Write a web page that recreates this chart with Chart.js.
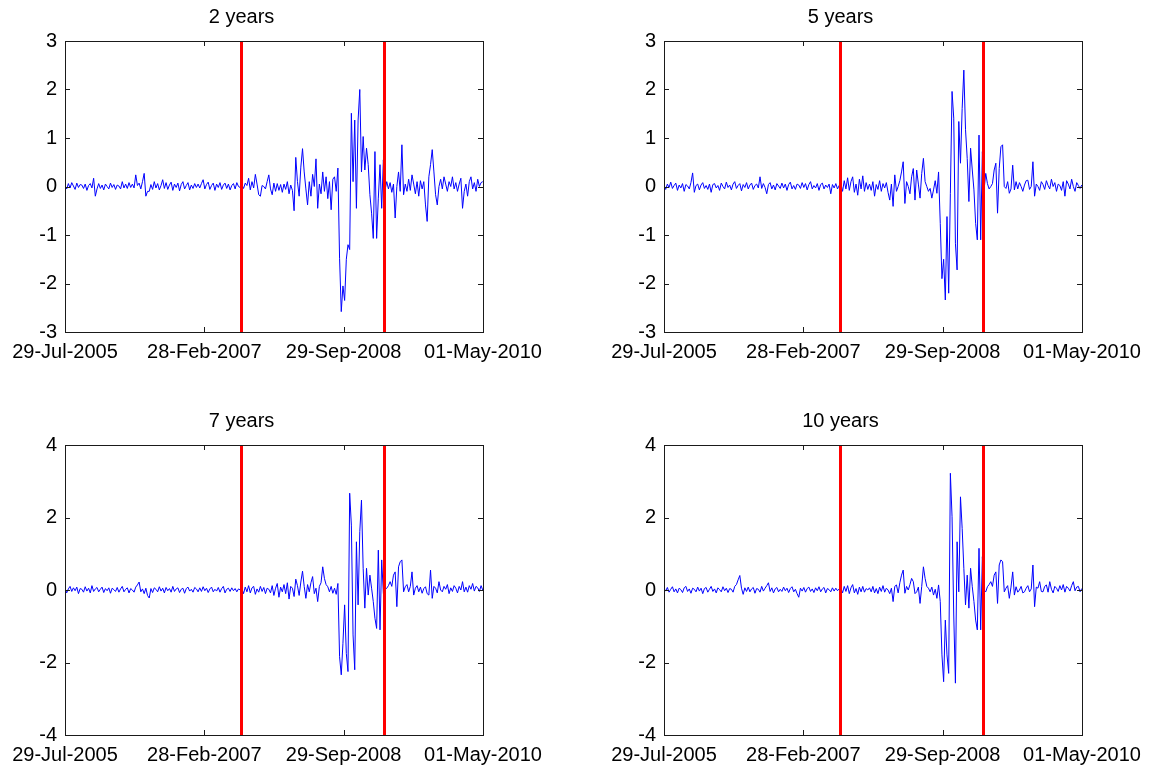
<!DOCTYPE html>
<html>
<head>
<meta charset="utf-8">
<title>Yield changes</title>
<script src="https://cdn.jsdelivr.net/npm/chart.js@4.4.1/dist/chart.umd.min.js"></script>
<style>
    html, body { margin: 0; padding: 0; background: #fff; overflow: hidden; }
    #figure { position: relative; width: 1161px; height: 769px; }
    #figure canvas { position: absolute; }
</style>
</head>
<body>
<div id="figure">
    <canvas id="panel2y" width="580" height="384" style="left:0;top:0"></canvas>
    <canvas id="panel5y" width="580" height="384" style="left:599px;top:0"></canvas>
    <canvas id="panel7y" width="580" height="383" style="left:0;top:404px"></canvas>
    <canvas id="panel10y" width="580" height="383" style="left:599px;top:404px"></canvas>
</div>
<script>
// x axis: days since 29-Jul-2005, weekly observations
const weekStep = 7;
const axisDays = 1737;
const tickDays = [0, 579, 1158, 1737];
const dateTicks = ['29-Jul-2005', '28-Feb-2007', '29-Sep-2008', '01-May-2010'];
const breakDays = [731, 1325];

const titles = ['2 years', '5 years', '7 years', '10 years'];
const yTicksTop = [-3, -2, -1, 0, 1, 2, 3];
const yTicksBottom = [-4, -2, 0, 2, 4];

const y2 = [
    0.02,-0.05,0.06,-0.03,0.08,0.01,-0.06,0.07,-0.02,0.04,
    0.03,-0.04,0.05,-0.08,0.02,0.06,-0.03,0.17,-0.2,-0.05,
    0.06,-0.04,0.03,-0.07,0.05,0.0,-0.05,0.07,-0.02,0.04,
    -0.06,0.03,0.01,-0.05,0.1,-0.03,0.05,-0.04,0.08,-0.02,
    0.05,-0.03,0.24,0.02,0.07,-0.05,0.1,0.27,-0.2,-0.1,
    -0.1,0.04,-0.06,0.1,-0.03,0.06,-0.07,0.02,0.14,-0.04,
    0.08,-0.06,0.03,0.09,-0.08,0.05,-0.02,0.07,-0.09,0.04,
    0.1,-0.05,0.02,0.08,-0.07,0.03,-0.04,0.06,-0.02,0.05,
    -0.03,0.06,0.14,-0.05,0.04,0.09,-0.06,0.02,0.07,-0.08,
    0.05,-0.02,0.08,-0.06,0.03,0.07,-0.04,0.05,-0.07,0.02,
    0.06,-0.05,0.08,0.0,-0.02,0.03,-0.04,0.07,0.02,0.17,
    -0.07,0.1,-0.03,0.25,0.05,-0.17,-0.2,0.02,0.0,-0.05,
    0.1,0.24,-0.05,-0.17,0.07,-0.1,0.06,-0.08,0.04,-0.12,
    0.05,-0.06,0.1,-0.15,0.03,-0.08,-0.5,0.6,0.1,-0.2,
    0.4,0.78,0.3,-0.05,-0.38,0.1,-0.2,0.25,0.0,0.57,
    -0.45,0.05,-0.15,0.3,-0.1,0.2,-0.25,0.1,-0.48,0.15,
    0.2,-0.1,0.38,-1.48,-2.58,-2.05,-2.35,-1.5,-1.2,-1.3,
    1.51,0.1,1.37,-0.45,1.37,2.0,0.3,1.03,0.34,0.79,
    0.45,-0.17,-0.55,-1.07,0.72,-1.07,-0.24,0.45,-0.45,0.55,
    -0.07,0.1,-0.05,0.08,-0.12,0.05,-0.65,0.0,0.3,-0.1,
    0.86,-0.17,0.05,-0.1,0.15,-0.08,0.24,0.05,-0.15,0.1,
    -0.2,0.12,-0.05,0.1,-0.38,-0.72,0.2,0.45,0.76,0.3,
    -0.17,-0.38,0.0,0.15,-0.05,0.2,0.05,-0.1,0.1,0.0,
    0.2,-0.05,0.08,-0.1,0.05,0.17,-0.45,-0.1,0.05,-0.2,
    0.1,0.2,-0.05,0.08,-0.1,0.15,0.0,0.08,0.1
];

const y5 = [
    0.03,-0.06,0.05,-0.02,0.09,-0.04,0.02,0.07,-0.08,0.03,
    -0.03,0.06,-0.1,0.04,0.01,-0.05,0.08,0.28,-0.12,0.02,
    0.05,-0.07,0.03,0.08,-0.04,0.02,-0.06,0.05,-0.12,0.04,
    0.06,-0.03,0.02,-0.08,0.07,0.0,-0.05,0.09,-0.02,0.03,
    -0.07,0.05,0.1,-0.04,0.02,0.06,-0.09,0.04,-0.02,0.08,
    -0.05,0.03,0.07,-0.06,0.02,0.05,-0.03,0.2,-0.04,0.06,
    -0.02,-0.15,0.04,0.08,-0.05,0.03,-0.07,0.06,0.01,-0.04,
    0.07,-0.03,0.05,-0.08,0.04,0.09,-0.05,0.02,-0.06,0.05,
    0.03,-0.04,0.08,-0.02,0.06,-0.07,0.04,0.1,-0.05,0.02,
    -0.03,0.06,-0.08,0.04,0.07,-0.05,0.03,-0.02,0.05,-0.15,
    0.04,-0.03,0.06,-0.05,0.02,0.06,-0.1,0.12,-0.05,0.18,
    -0.08,0.1,0.2,-0.12,0.05,-0.18,0.15,-0.05,0.22,-0.1,
    0.08,-0.06,0.05,-0.08,0.1,-0.2,0.04,-0.06,0.12,-0.1,
    0.06,-0.03,0.08,-0.12,-0.28,0.05,-0.41,0.24,-0.1,0.0,
    0.12,0.3,0.51,-0.35,0.1,0.0,-0.15,0.2,0.37,-0.28,
    0.34,0.05,-0.24,0.27,0.58,0.1,0.0,-0.1,-0.04,-0.24,
    -0.07,0.12,-0.14,0.3,-0.76,-1.9,-1.5,-2.34,-0.62,-2.2,
    -0.14,1.96,1.41,-1.17,-1.72,1.34,0.48,1.61,2.4,1.17,
    0.58,-0.31,0.79,0.34,-0.07,-0.76,-1.1,1.06,-1.1,0.72,
    -0.07,0.27,0.06,-0.05,0.0,0.06,0.34,0.48,-0.55,0.37,
    0.82,0.86,0.0,-0.04,0.1,-0.14,-0.05,0.44,-0.07,0.1,
    -0.05,0.08,0.0,-0.1,0.03,0.12,0.13,-0.06,0.0,0.51,
    -0.2,0.05,0.0,-0.08,0.1,0.04,-0.06,0.12,0.02,-0.05,
    0.15,0.0,0.08,-0.1,0.05,0.02,-0.08,0.1,-0.2,0.12,
    0.05,-0.05,0.15,0.0,-0.1,0.08,0.02,-0.04,0.03
];

const y7 = [
    0.05,-0.08,0.03,0.1,-0.04,0.06,-0.02,0.08,-0.1,0.04,
    0.02,-0.06,0.09,-0.03,0.05,-0.08,0.12,-0.04,0.03,0.07,
    -0.05,0.02,0.08,-0.07,0.04,-0.02,0.06,-0.09,0.05,0.01,
    -0.04,0.07,-0.06,0.03,0.1,-0.05,0.02,0.06,-0.08,0.04,
    0.0,-0.06,0.08,0.14,0.22,-0.05,0.03,-0.1,0.05,-0.15,
    -0.22,0.04,-0.07,0.06,0.02,-0.05,0.09,-0.03,0.05,-0.08,
    0.07,-0.02,0.04,-0.06,0.1,-0.04,0.03,0.06,-0.07,0.02,
    0.05,-0.09,0.04,0.08,-0.03,0.02,-0.06,0.07,0.03,-0.05,
    0.06,-0.04,0.09,-0.02,0.05,-0.07,0.03,0.08,-0.05,0.02,
    -0.03,0.07,-0.06,0.04,0.1,-0.08,0.02,0.05,-0.04,0.06,
    -0.02,0.04,-0.05,0.03,0.0,0.04,-0.1,0.08,-0.05,0.12,
    -0.08,0.06,0.1,-0.12,0.03,-0.06,0.1,-0.04,0.07,-0.1,
    0.05,0.02,-0.08,0.12,-0.15,0.05,0.18,-0.2,0.08,-0.05,
    0.15,-0.1,0.2,-0.25,0.1,0.05,-0.18,0.3,0.12,-0.15,
    0.22,0.52,0.1,-0.23,0.15,-0.05,0.2,0.37,-0.1,0.05,
    -0.32,0.1,0.2,0.64,0.32,0.15,0.09,-0.05,0.1,-0.09,
    0.05,-0.12,0.18,-1.84,-2.34,-1.47,-0.41,-1.75,-2.25,2.67,
    1.79,-1.24,-2.2,1.33,-0.41,1.61,2.48,0.6,-0.5,0.6,
    -0.14,0.41,0.05,-0.32,-0.78,-1.06,1.1,-1.1,0.83,-0.09,
    0.0,0.05,0.12,0.23,0.1,0.41,0.5,-0.46,0.64,0.78,
    0.83,-0.05,0.09,0.15,-0.05,0.1,0.5,-0.14,0.05,0.12,
    -0.05,0.08,-0.09,0.04,0.09,-0.1,-0.14,0.55,-0.23,0.1,
    0.05,-0.08,0.23,0.0,-0.05,0.1,0.02,0.15,-0.1,0.06,
    -0.04,0.12,0.05,-0.08,0.1,0.0,0.23,-0.05,0.08,-0.06,
    0.12,0.02,0.18,-0.03,0.1,0.06,-0.04,0.12,0.0
];

const y10 = [
    0.04,-0.03,0.07,-0.06,0.02,0.09,-0.05,0.03,-0.08,0.05,
    0.01,-0.07,0.06,0.1,-0.04,0.03,-0.09,0.05,0.02,-0.05,
    0.08,-0.03,0.05,-0.1,0.04,0.07,-0.06,0.02,0.1,-0.04,
    0.03,-0.08,0.06,0.01,-0.05,0.09,-0.02,0.05,-0.07,0.04,
    0.02,-0.06,0.1,0.15,0.28,0.4,0.05,-0.12,0.06,-0.04,
    0.08,-0.05,0.03,0.07,-0.09,0.04,0.02,-0.06,0.1,-0.03,
    0.05,0.12,0.2,-0.04,0.06,-0.08,0.03,0.07,-0.05,0.02,
    -0.04,0.08,-0.02,0.05,-0.07,0.04,0.09,-0.05,0.02,-0.1,
    -0.2,0.05,-0.03,0.07,-0.06,0.04,0.08,-0.04,0.03,-0.07,
    0.06,-0.02,0.09,-0.05,0.03,0.07,-0.08,0.04,0.01,-0.05,
    0.06,-0.03,0.05,-0.02,0.03,0.05,-0.08,0.1,-0.04,0.12,
    -0.1,0.06,0.15,-0.08,0.04,-0.12,0.08,-0.05,0.1,-0.06,
    0.04,0.0,0.06,-0.05,0.1,-0.08,0.04,-0.1,0.08,-0.04,
    0.12,-0.06,0.05,0.0,-0.1,0.05,-0.32,0.1,0.14,-0.08,
    0.2,0.41,0.55,-0.09,0.1,0.0,0.15,0.32,0.23,-0.1,
    -0.05,0.08,-0.37,0.1,0.64,0.32,0.1,0.05,-0.05,0.08,
    -0.14,0.02,-0.23,0.14,-0.32,-1.79,-2.53,-0.83,-1.79,-2.3,
    3.22,2.02,-0.69,-2.57,1.33,-0.05,2.57,1.7,0.6,-0.41,
    0.41,-0.5,0.6,0.09,-0.32,-0.83,-1.1,1.15,-1.1,0.92,
    0.0,-0.05,0.09,0.15,0.23,0.1,0.41,0.5,-0.37,0.69,
    0.83,0.78,-0.05,0.05,0.12,-0.23,0.08,0.5,-0.14,0.09,
    -0.06,0.0,0.1,-0.08,-0.05,0.05,0.12,-0.05,0.03,0.69,
    -0.46,0.08,0.05,0.23,-0.04,-0.05,0.1,0.14,-0.06,0.23,
    0.02,-0.08,0.1,0.05,-0.04,0.12,0.0,0.15,-0.06,0.1,
    0.05,-0.03,0.12,0.23,-0.02,0.08,0.1,-0.05,0.04
];

const fontFamily = "'Liberation Sans', Arial, Helvetica, sans-serif";

// MATLAB-like axes box, inward tick marks and the red break lines
const matlabAxes = {
    id: 'matlabAxes',
    afterDatasetsDraw(chart) {
        const { ctx, chartArea: a, scales: { x } } = chart;
        ctx.save();
        ctx.strokeStyle = '#ff0000';
        ctx.lineWidth = 3;
        breakDays.forEach(d => {
            const px = Math.round(x.getPixelForValue(d)) + 0.5;
            ctx.beginPath();
            ctx.moveTo(px, a.top);
            ctx.lineTo(px, a.bottom);
            ctx.stroke();
        });
        ctx.restore();
    },
    afterDraw(chart) {
        const { ctx, chartArea: a, scales: { x, y } } = chart;
        const tick = 5;
        ctx.save();
        ctx.strokeStyle = '#1a1a1a';
        ctx.lineWidth = 1;
        ctx.beginPath();
        x.ticks.forEach(t => {
            const px = Math.round(x.getPixelForValue(t.value)) + 0.5;
            ctx.moveTo(px, a.bottom); ctx.lineTo(px, a.bottom - tick);
            ctx.moveTo(px, a.top); ctx.lineTo(px, a.top + tick);
        });
        y.ticks.forEach(t => {
            const py = Math.round(y.getPixelForValue(t.value)) + 0.5;
            ctx.moveTo(a.left, py); ctx.lineTo(a.left + tick, py);
            ctx.moveTo(a.right, py); ctx.lineTo(a.right - tick, py);
        });
        ctx.stroke();
        ctx.strokeRect(Math.round(a.left) + 0.5, Math.round(a.top) + 0.5,
            Math.round(a.right - a.left), Math.round(a.bottom - a.top));
        ctx.restore();
    }
};

function makePanel(canvasId, title, values, yTicks) {
    const ctx = document.getElementById(canvasId).getContext('2d');
    return new Chart(ctx, {
        type: 'line',
        data: {
            datasets: [{
                data: values.map((v, i) => ({ x: i * weekStep, y: v })),
                borderColor: '#0000ff',
                borderWidth: 1,
                pointRadius: 0,
                tension: 0,
                fill: false
            }]
        },
        options: {
            responsive: false,
            animation: false,
            events: [],
            layout: { padding: { right: 97 } },
            plugins: {
                legend: { display: false },
                tooltip: { enabled: false },
                title: {
                    display: true,
                    text: title,
                    color: '#000',
                    font: { family: fontFamily, size: 20, weight: 'normal', lineHeight: 1.2 },
                    padding: { top: 5, bottom: 12 }
                }
            },
            scales: {
                x: {
                    type: 'linear',
                    min: 0,
                    max: axisDays,
                    afterBuildTicks: s => { s.ticks = tickDays.map(v => ({ value: v })); },
                    afterFit: s => { s.height = 52; },
                    grid: { display: false, drawTicks: false },
                    border: { display: false },
                    ticks: {
                        color: '#000',
                        font: { family: fontFamily, size: 20 },
                        padding: 8,
                        maxRotation: 0,
                        autoSkip: false,
                        callback: v => dateTicks[tickDays.indexOf(v)]
                    }
                },
                y: {
                    min: yTicks[0],
                    max: yTicks[yTicks.length - 1],
                    afterBuildTicks: s => { s.ticks = yTicks.map(v => ({ value: v })); },
                    afterFit: s => { s.width = 65; },
                    grid: { display: false, drawTicks: false },
                    border: { display: false },
                    ticks: {
                        color: '#000',
                        font: { family: fontFamily, size: 20 },
                        padding: 8
                    }
                }
            }
        },
        plugins: [matlabAxes]
    });
}

document.addEventListener('DOMContentLoaded', function() {
    makePanel('panel2y', titles[0], y2, yTicksTop);
    makePanel('panel5y', titles[1], y5, yTicksTop);
    makePanel('panel7y', titles[2], y7, yTicksBottom);
    makePanel('panel10y', titles[3], y10, yTicksBottom);
});
</script>
</body>
</html>
